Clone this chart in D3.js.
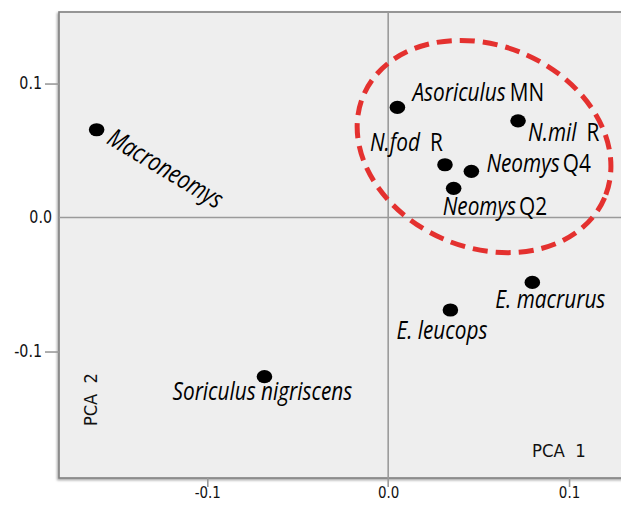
<!DOCTYPE html>
<html>
<head>
<meta charset="utf-8">
<script src="https://cdn.jsdelivr.net/npm/d3@7/dist/d3.min.js"></script>
<style>
  html, body { margin: 0; padding: 0; background: #ffffff; }
  svg { display: block; }
</style>
</head>
<body>
<script>
// ---------------- DATA ----------------
const taxa    = ["Macroneomys", "Asoriculus MN", "N.mil R", "N.fod R", "Neomys Q4", "Neomys Q2", "E. macrurus", "E. leucops", "Soriculus nigriscens"];
const italicPart = ["Macroneomys", "Asoriculus", "N.mil", "N.fod", "Neomys", "Neomys", "E. macrurus", "E. leucops", "Soriculus nigriscens"];
const romanPart  = ["", "MN", "R", "R", "Q4", "Q2", "", "", ""];
const pca1 = [-0.1612, 0.0051, 0.0718, 0.0314, 0.0460, 0.0362, 0.0797, 0.0344, -0.0684];
const pca2 = [ 0.0655, 0.0822, 0.0722, 0.0394, 0.0345, 0.0218, -0.0484, -0.0690, -0.1188];
const xTicks = [-0.1, 0.0, 0.1];
const yTicks = [-0.1, 0.0, 0.1];
const xTickLabels = ["-0.1", "0.0", "0.1"];
const yTickLabels = ["-0.1", "0.0", "0.1"];
const xAxisTitle = "PCA\u00a0\u00a01";
const yAxisTitle = "PCA\u00a0\u00a02";
const groupCenter = [0.0530, 0.0530]; // highlighted cluster (PCA1, PCA2)

// ---------------- LAYOUT ----------------
const W = 621, H = 506;
const plot = { left: 59, top: 12, right: 630, bottom: 478 };
const SQ = 0.80;   // horizontal condensation of the label typeface
const SQT = 0.84;  // condensation of tick labels
const labelLayout = {
  "Macroneomys":          { dx: 9,   dy: 13,  rot: 31, gap: 0 },
  "Asoriculus MN":        { dx: 15,  dy: -6,  rot: 0,  gap: 4 },
  "N.mil R":              { dx: 10,  dy: 20,  rot: 0,  gap: 10 },
  "N.fod R":              { dx: -75, dy: -14, rot: 0,  gap: 10 },
  "Neomys Q4":            { dx: 15,  dy: 1,   rot: 0,  gap: 3 },
  "Neomys Q2":            { dx: -11, dy: 27,  rot: 0,  gap: 3 },
  "E. macrurus":          { dx: -37, dy: 26,  rot: 0,  gap: 0 },
  "E. leucops":           { dx: -54, dy: 29,  rot: 0,  gap: 0 },
  "Soriculus nigriscens": { dx: -92, dy: 23,  rot: 0,  gap: 0 }
};

const x = d3.scaleLinear().domain([-0.182, 0.1337]).range([plot.left, plot.right]);
const y = d3.scaleLinear().domain([-0.1944, 0.1534]).range([plot.bottom, plot.top]);

const svg = d3.select("body").append("svg").attr("width", W).attr("height", H);

const defs = svg.append("defs");
const f = defs.append("filter").attr("id", "sh").attr("x", "-5%").attr("y", "-5%").attr("width", "110%").attr("height", "110%");
f.append("feDropShadow").attr("dx", -1.2).attr("dy", 1.5).attr("stdDeviation", 1.2).attr("flood-color", "#000").attr("flood-opacity", 0.35);

// plot background
svg.append("rect")
  .attr("x", plot.left).attr("y", plot.top)
  .attr("width", plot.right - plot.left).attr("height", plot.bottom - plot.top)
  .attr("fill", "#eeeeee").attr("stroke", "#7f7f7f").attr("stroke-width", 1.6)
  .attr("filter", "url(#sh)");

// zero reference lines
svg.append("line")
  .attr("x1", x(0)).attr("x2", x(0)).attr("y1", plot.top).attr("y2", plot.bottom + 9)
  .attr("stroke", "#9a9a9a").attr("stroke-width", 1.6);
svg.append("line")
  .attr("x1", plot.left).attr("x2", plot.right).attr("y1", y(0)).attr("y2", y(0))
  .attr("stroke", "#9a9a9a").attr("stroke-width", 1.6);

// axes
const xAxis = d3.axisBottom(x).tickValues(xTicks).tickSize(9).tickPadding(0)
  .tickFormat((d, i) => xTickLabels[i]);
const yAxis = d3.axisLeft(y).tickValues(yTicks).tickSize(14).tickPadding(3)
  .tickFormat((d, i) => yTickLabels[i]);

const gx = svg.append("g").attr("transform", `translate(0,${plot.bottom})`).call(xAxis);
const gy = svg.append("g").attr("transform", `translate(${plot.left},0)`).call(yAxis);
[gx, gy].forEach(g => {
  g.select(".domain").remove();
  g.selectAll(".tick line").attr("stroke", "#9a9a9a").attr("stroke-width", 1.6);
  g.selectAll(".tick text").attr("fill", "#111").attr("font-family", "'DejaVu Sans', sans-serif").attr("font-size", 17);
});
gx.selectAll(".tick text").attr("font-size", 16);
// zero ticks are covered by the reference lines
gy.selectAll(".tick").filter(d => d === 0).select("line").remove();
gy.selectAll(".tick").filter(d => d === 0).select("text").attr("x", -7);
gx.selectAll(".tick").filter(d => d === 0).select("line").remove();
gx.selectAll(".tick text").attr("dy", "0.71em").attr("transform", `scale(${SQT},1)`).attr("x", 0);
gy.selectAll(".tick text").each(function() {
  const t = d3.select(this);
  t.attr("x", (+t.attr("x")) / SQT).attr("transform", `scale(${SQT},1)`);
});

// axis titles
svg.append("text")
  .attr("transform", `translate(532,457) scale(0.92,1)`)
  .attr("font-family", "'DejaVu Sans', sans-serif").attr("font-size", 18).attr("fill", "#111")
  .text(xAxisTitle);
svg.append("text")
  .attr("transform", `translate(97,426) rotate(-90) scale(0.9,1)`)
  .attr("font-family", "'DejaVu Sans', sans-serif").attr("font-size", 18).attr("fill", "#111")
  .text(yAxisTitle);

// highlight ellipse
svg.append("ellipse")
  .attr("cx", x(groupCenter[0])).attr("cy", y(groupCenter[1]))
  .attr("rx", 131).attr("ry", 101)
  .attr("transform", `rotate(23,${x(groupCenter[0])},${y(groupCenter[1])})`)
  .attr("fill", "none").attr("stroke", "#e4312f").attr("stroke-width", 5)
  .attr("stroke-dasharray", "15 8");

// points
const pts = taxa.map((t, i) => ({ name: t, it: italicPart[i], ro: romanPart[i], px: pca1[i], py: pca2[i] }));
svg.append("g").selectAll("ellipse").data(pts).join("ellipse")
  .attr("cx", d => x(d.px)).attr("cy", d => y(d.py))
  .attr("rx", 7.8).attr("ry", 6.6).attr("fill", "#000");

// labels
const lab = svg.append("g").selectAll("text").data(pts).join("text")
  .attr("transform", d => {
    const L = labelLayout[d.name];
    return `translate(${x(d.px) + L.dx},${y(d.py) + L.dy}) rotate(${L.rot}) scale(${SQ},1)`;
  })
  .attr("font-family", "'Open Sans', sans-serif").attr("font-size", 26).attr("fill", "#000");
lab.append("tspan").attr("font-style", "italic").text(d => d.it);
lab.append("tspan").attr("font-style", "normal")
  .attr("dx", d => labelLayout[d.name].gap / SQ)
  .text(d => d.ro);
</script>
</body>
</html>
